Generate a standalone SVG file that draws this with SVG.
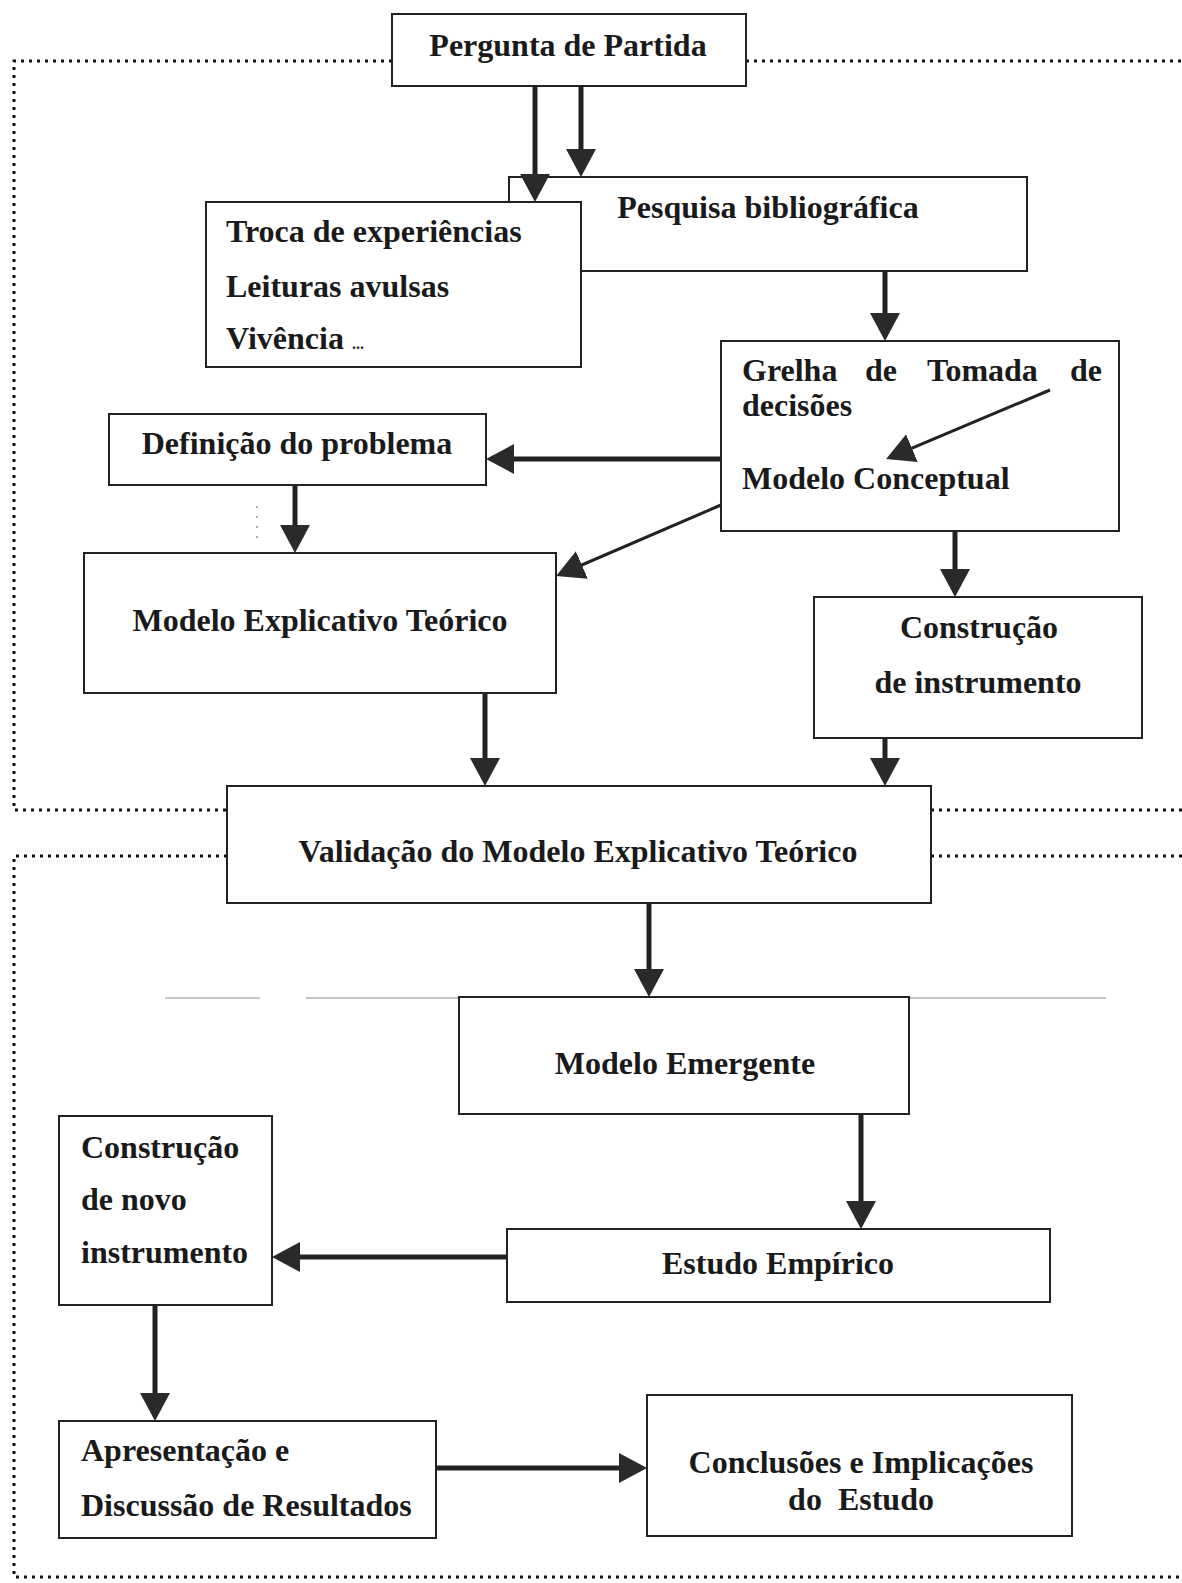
<svg xmlns="http://www.w3.org/2000/svg" width="1182" height="1583" viewBox="0 0 1182 1583">
<style>
.box{fill:#fff;stroke:#222;stroke-width:2}
.t{font-family:"Liberation Serif","Times New Roman",serif;font-weight:bold;font-size:32px;fill:#1a1a1a}
.c{text-anchor:middle}
.arr{stroke:#222;stroke-width:5;fill:none;marker-end:url(#ah)}
.arr2{stroke:#222;stroke-width:3;fill:none;marker-end:url(#ah)}
.dot{stroke:#111;stroke-width:3;stroke-dasharray:3 5;fill:none}
.faint{stroke:#c8c8c8;stroke-width:2;fill:none}
</style>
<defs>
<marker id="ah" markerUnits="userSpaceOnUse" markerWidth="28" markerHeight="30" refX="14" refY="15" orient="auto" viewBox="0 0 28 30">
<path d="M0,0 L28,15 L0,30 Z" fill="#2a2a2a"/>
</marker>
</defs>
<rect width="1182" height="1583" fill="#fff"/>
<g id="frames">
<path class="dot" d="M392,61 H14 V810 H227"/>
<path class="dot" d="M746,61 H1182"/>
<path class="dot" d="M931,810 H1182"/>
<path class="dot" d="M227,856 H14 V1577 H1182"/>
<path class="dot" d="M931,856 H1182"/>
<path class="faint" d="M165,998 H260 M306,998 H459 M908,998 H1106"/>
<path d="M257,506 V538" stroke="#aaa" stroke-width="2" stroke-dasharray="2 8" fill="none"/>
</g>
<g id="pergunta">
<rect class="box" x="392" y="14" width="354" height="72"/>
<text class="t c" x="568" y="56">Pergunta de Partida</text>
</g>
<g id="pesquisa">
<rect class="box" x="509" y="177" width="518" height="94"/>
<text class="t c" x="768" y="218">Pesquisa bibliográfica</text>
</g>
<g id="troca">
<rect class="box" x="206" y="202" width="375" height="165"/>
<text class="t" x="226" y="242">Troca de experiências</text>
<text class="t" x="226" y="297">Leituras avulsas</text>
<text class="t" x="226" y="349">Vivência <tspan font-size="16">...</tspan></text>
</g>
<g id="grelha">
<rect class="box" x="721" y="341" width="398" height="190"/>
<text class="t" x="742" y="381">Grelha</text>
<text class="t" x="865" y="381">de</text>
<text class="t" x="927" y="381">Tomada</text>
<text class="t" x="1102" y="381" text-anchor="end">de</text>
<text class="t" x="742" y="416">decisões</text>
<text class="t" x="742" y="489">Modelo Conceptual</text>
</g>
<g id="definicao">
<rect class="box" x="109" y="414" width="377" height="71"/>
<text class="t c" x="297" y="454">Definição do problema</text>
</g>
<g id="modelo-explicativo">
<rect class="box" x="84" y="553" width="472" height="140"/>
<text class="t c" x="320" y="631">Modelo Explicativo Teórico</text>
</g>
<g id="construcao">
<rect class="box" x="814" y="597" width="328" height="141"/>
<text class="t c" x="979" y="638">Construção</text>
<text class="t c" x="978" y="693">de instrumento</text>
</g>
<g id="validacao">
<rect class="box" x="227" y="786" width="704" height="117"/>
<text class="t c" x="578" y="862">Validação do Modelo Explicativo Teórico</text>
</g>
<g id="emergente">
<rect class="box" x="459" y="997" width="450" height="117"/>
<text class="t c" x="685" y="1074">Modelo Emergente</text>
</g>
<g id="estudo">
<rect class="box" x="507" y="1229" width="543" height="73"/>
<text class="t c" x="778" y="1274">Estudo Empírico</text>
</g>
<g id="construcao-novo">
<rect class="box" x="59" y="1116" width="213" height="189"/>
<text class="t" x="81" y="1158">Construção</text>
<text class="t" x="81" y="1210">de novo</text>
<text class="t" x="81" y="1263">instrumento</text>
</g>
<g id="apresentacao">
<rect class="box" x="59" y="1421" width="377" height="117"/>
<text class="t" x="81" y="1461">Apresentação e</text>
<text class="t" x="81" y="1516">Discussão de Resultados</text>
</g>
<g id="conclusoes">
<rect class="box" x="647" y="1395" width="425" height="141"/>
<text class="t c" x="861" y="1473">Conclusões e Implicações</text>
<text class="t c" x="861" y="1510" xml:space="preserve">do  Estudo</text>
</g>
<g id="connectors">
<path class="arr" d="M535,86 V188"/>
<path class="arr" d="M581,86 V163"/>
<path class="arr" d="M885,271 V327"/>
<path class="arr2" d="M1050,390 L899,453.6"/>
<path class="arr" d="M721,459 H500"/>
<path class="arr2" d="M721,505 L569,570.5"/>
<path class="arr" d="M295,485 V539"/>
<path class="arr" d="M955,531 V583"/>
<path class="arr" d="M485,693 V772"/>
<path class="arr" d="M885,738 V772"/>
<path class="arr" d="M649,903 V983"/>
<path class="arr" d="M861,1114 V1215"/>
<path class="arr" d="M507,1257 H286"/>
<path class="arr" d="M155,1305 V1407"/>
<path class="arr" d="M436,1468 H633"/>
</g>
</svg>
